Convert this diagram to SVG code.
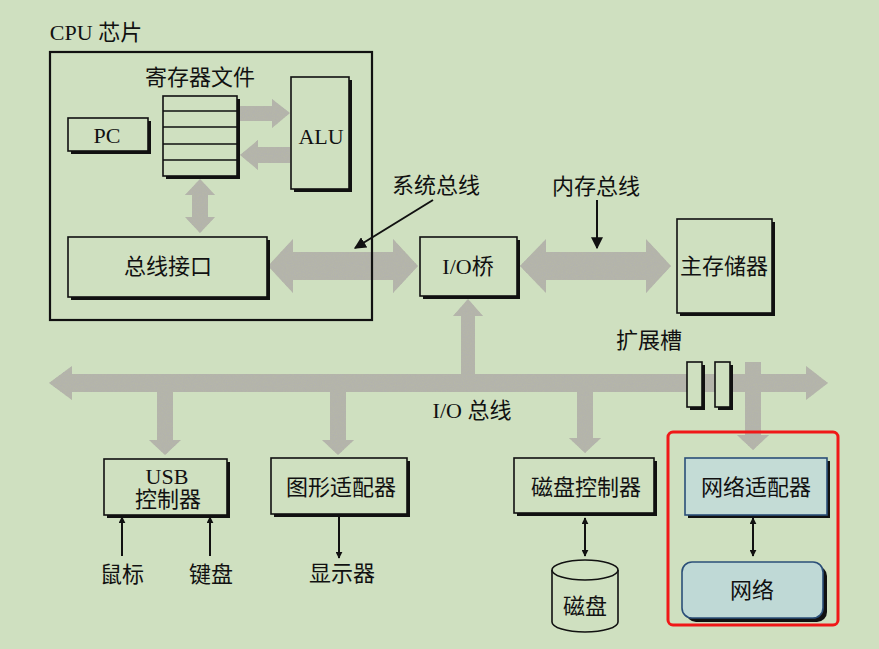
<svg xmlns="http://www.w3.org/2000/svg" width="879" height="649" viewBox="0 0 879 649">
<style>
.t{font-family:"Liberation Serif","Noto Sans CJK SC",serif;font-size:22px;fill:#111;text-anchor:middle;dominant-baseline:central}
.box{fill:#cfe0c0;stroke:#111;stroke-width:1.6}
.sh{fill:#111}
.bus{fill:#b5b6a9}
.ln{stroke:#111;stroke-width:2;fill:none}
</style>
<defs>
<marker id="ah" viewBox="0 0 10 10" refX="9" refY="5" markerWidth="7" markerHeight="7" markerUnits="userSpaceOnUse" orient="auto-start-reverse">
<path d="M0,0 L10,5 L0,10 z" fill="#111"/>
</marker>
<marker id="ah2" viewBox="0 0 10 10" refX="9" refY="5" markerWidth="12" markerHeight="12" markerUnits="userSpaceOnUse" orient="auto-start-reverse">
<path d="M0,0 L10,5 L0,10 z" fill="#111"/>
</marker>
<filter id="grain" x="0" y="0" width="100%" height="100%">
<feTurbulence type="fractalNoise" baseFrequency="1.1" numOctaves="2" seed="3" result="n"/>
<feColorMatrix in="n" type="matrix" values="0 0 0 0 0.45  0 0 0 0 0.45  0 0 0 0 0.42  0 0 0 -3 1.9" result="d"/>
<feComposite in="d" in2="SourceGraphic" operator="in" result="dd"/>
<feMerge><feMergeNode in="SourceGraphic"/><feMergeNode in="dd"/></feMerge>
</filter>
</defs>
<rect width="879" height="649" fill="#cfe0c0"/>

<g id="connectors">
<g class="bus" filter="url(#grain)">
<polygon points="240,106 272,106 272,99 290,113 272,128 272,121 240,121"/>
<polygon points="290,147 258,147 258,140 240,155 258,170 258,163 290,163"/>
<polygon points="200,179 215,195 208,195 208,217 215,217 200,233 185,217 192,217 192,195 185,195"/>
<polygon points="268,266 293,239 293,252 393,252 393,239 418,266 393,293 393,280 293,280 293,293"/>
<polygon points="520,266 546,239 546,252 646,252 646,239 671,266 646,293 646,280 546,280 546,293"/>
<polygon points="49,383 72,366 72,374 806,374 806,366 828,383 806,400 806,392 72,392 72,400"/>
<polygon points="461,376 461,316 453,316 468,299 483,316 475,316 475,376"/>
<polygon points="157,390 173,390 173,440 181,440 165,455 149,440 157,440"/>
<polygon points="330,390 346,390 346,440 354,440 338,455 322,440 330,440"/>
<polygon points="577,390 593,390 593,438 601,438 585,453 569,438 577,438"/>
<polygon points="745,362 761,362 761,435 769,435 753,450 737,435 745,435"/>
</g>
<line class="ln" x1="433" y1="200" x2="355" y2="248" marker-end="url(#ah2)"/>
<line class="ln" x1="597" y1="200" x2="597" y2="248" marker-end="url(#ah2)"/>
<line class="ln" x1="122" y1="556" x2="122" y2="517" marker-end="url(#ah)"/>
<line class="ln" x1="210" y1="556" x2="210" y2="517" marker-end="url(#ah)"/>
<line class="ln" x1="339" y1="517" x2="339" y2="558" marker-end="url(#ah)"/>
<line class="ln" x1="585" y1="518" x2="585" y2="556" marker-start="url(#ah)" marker-end="url(#ah)"/>
<line class="ln" x1="753" y1="518" x2="753" y2="556" marker-start="url(#ah)" marker-end="url(#ah)"/>
</g>

<g id="cpu">
<rect x="50" y="52" width="322" height="268" fill="none" stroke="#111" stroke-width="2.2"/>
<text class="t" x="96" y="32">CPU 芯片</text>
</g>

<g id="regfile">
<text class="t" x="200" y="77">寄存器文件</text>
<rect class="sh" x="166" y="99" width="74" height="80"/>
<rect class="box" x="163" y="96" width="74" height="80"/>
<path d="M163,111H237M163,127H237M163,144H237M163,160H237" stroke="#111" stroke-width="1.4"/>
</g>

<g id="pc">
<rect class="sh" x="71" y="121" width="80" height="33"/>
<rect class="box" x="68" y="118" width="80" height="33"/>
<text class="t" x="107" y="135">PC</text>
</g>

<g id="alu">
<rect class="sh" x="294" y="80" width="58" height="112"/>
<rect class="box" x="291" y="77" width="58" height="112"/>
<text class="t" x="321" y="136">ALU</text>
</g>

<g id="businterface">
<rect class="sh" x="71" y="240" width="199" height="60"/>
<rect class="box" x="68" y="237" width="199" height="60"/>
<text class="t" x="168" y="266">总线接口</text>
</g>

<g id="sysbuslabel"><text class="t" x="436" y="185">系统总线</text></g>
<g id="membuslabel"><text class="t" x="596" y="186">内存总线</text></g>

<g id="iobridge">
<rect class="sh" x="423" y="240" width="97" height="59"/>
<rect class="box" x="420" y="237" width="97" height="59"/>
<text class="t" x="468" y="266">I/O桥</text>
</g>

<g id="mainmem">
<rect class="sh" x="680" y="222" width="95" height="94"/>
<rect class="box" x="677" y="219" width="95" height="94"/>
<text class="t" x="724" y="266">主存储器</text>
</g>

<g id="iobuslabel"><text class="t" x="472" y="410">I/O 总线</text></g>
<g id="slotlabel"><text class="t" x="649" y="340">扩展槽</text></g>

<g id="slots">
<rect class="sh" x="690" y="365" width="15" height="45"/>
<rect class="box" x="687" y="362" width="15" height="45"/>
<rect class="sh" x="718" y="365" width="15" height="45"/>
<rect class="box" x="715" y="362" width="15" height="45"/>
</g>

<g id="usb">
<rect class="sh" x="107" y="462" width="123" height="56"/>
<rect class="box" x="104" y="459" width="123" height="56"/>
<text class="t" x="167" y="476">USB</text>
<text class="t" x="168" y="499">控制器</text>
</g>
<g id="mouse"><text class="t" x="122" y="574">鼠标</text></g>
<g id="keyboard"><text class="t" x="211" y="574">键盘</text></g>

<g id="graphics">
<rect class="sh" x="274" y="461" width="136" height="56"/>
<rect class="box" x="271" y="458" width="136" height="56"/>
<text class="t" x="341" y="487">图形适配器</text>
</g>
<g id="display"><text class="t" x="342" y="573">显示器</text></g>

<g id="diskctrl">
<rect class="sh" x="517" y="461" width="140" height="55"/>
<rect class="box" x="514" y="458" width="140" height="55"/>
<text class="t" x="586" y="487">磁盘控制器</text>
</g>

<g id="disk">
<path d="M552,570 V622 A33,10 0 0 0 618,622 V570" fill="#cfe0c0" stroke="#111" stroke-width="1.6"/>
<ellipse cx="585" cy="570" rx="33" ry="10" fill="#cfe0c0" stroke="#111" stroke-width="1.6"/>
<text class="t" x="585" y="606">磁盘</text>
</g>

<g id="highlight">
<rect x="668" y="432" width="170" height="193" rx="5" fill="none" stroke="#f01818" stroke-width="3"/>
</g>

<g id="netadapter">
<rect class="sh" x="688" y="461" width="142" height="57"/>
<rect x="685" y="458" width="142" height="57" fill="#c4dcd6" stroke="#2b4f78" stroke-width="1.6"/>
<text class="t" x="756" y="487">网络适配器</text>
</g>

<g id="network">
<rect class="sh" x="686" y="566" width="141" height="56" rx="10"/>
<rect x="682" y="562" width="141" height="56" rx="10" fill="#bfd9d6" stroke="#2b4f78" stroke-width="1.6"/>
<text class="t" x="752" y="590">网络</text>
</g>
</svg>
